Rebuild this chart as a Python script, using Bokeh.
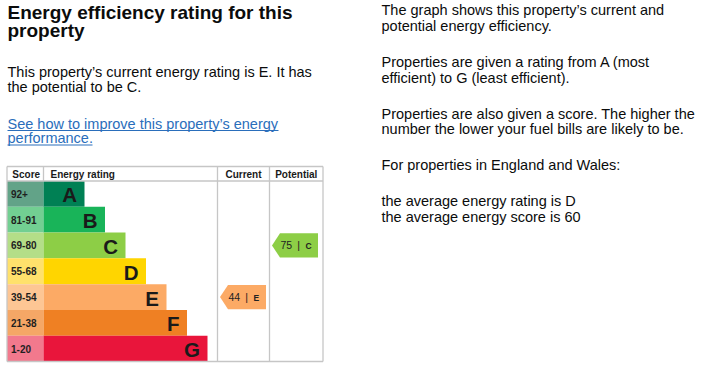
from bokeh.plotting import figure
from bokeh.models import Range1d, ColumnDataSource
from bokeh.core.properties import value
from bokeh.embed import file_html
from bokeh.resources import INLINE

# ---------------- data ----------------
bands = ["A", "B", "C", "D", "E", "F", "G"]
score_ranges = ["92+", "81-91", "69-80", "55-68", "39-54", "21-38", "1-20"]
current_score = 44
current_band = "E"
potential_score = 75
potential_band = "C"
headers = ["Score", "Energy rating", "Current", "Potential"]

title_lines = ["Energy efficiency rating for this", "property"]
summary_lines = ["This property\u2019s current energy rating is E. It has",
                 "the potential to be C."]
link_lines = ["See how to improve this property\u2019s energy", "performance."]
info_paras = [
    ["The graph shows this property\u2019s current and", "potential energy efficiency."],
    ["Properties are given a rating from A (most", "efficient) to G (least efficient)."],
    ["Properties are also given a score. The higher the",
     "number the lower your fuel bills are likely to be."],
    ["For properties in England and Wales:"],
    ["the average energy rating is D", "the average energy score is 60"],
]

# ---------------- styles ----------------
band_colors = ["#008054", "#19b459", "#8dce46", "#ffd500", "#fcaa65", "#ef8023", "#e9153b"]
score_colors = ["#62a388", "#72cf92", "#b4de88", "#ffe16c", "#fdc694", "#f5a766", "#f2798d"]
FONT = "Liberation Sans"
TXT = "#0b0c0c"
LINK = "#2a6ebb"
GRID = "#c6c6c6"
MID = 0.35  # baseline -> middle offset, in em

# layout (page pixel coordinates)
T_LEFT, T_RIGHT = 6.5, 322.5
T_TOP, H_BOTTOM, T_BOTTOM = 166.0, 180.5, 361.0
SCORE_R, RATING_R, CURRENT_R = 43.0, 217.0, 269.0
ROW_H = (T_BOTTOM - H_BOTTOM) / len(bands)
BAR_MIN, BAR_STEP = 41.0, 20.5

p = figure(width=700, height=380, output_backend="svg", toolbar_location=None,
           x_range=Range1d(0, 700), y_range=Range1d(380, 0),
           x_axis_location=None, y_axis_location=None,
           min_border=0, min_border_left=0, min_border_right=0,
           min_border_top=0, min_border_bottom=0)
p.grid.visible = False
p.outline_line_color = None
p.background_fill_color = "white"
p.border_fill_color = "white"


def label(x, y, text, size, bold=False, color=TXT, align="left", middle=False):
    """y is the text baseline unless middle=True"""
    yy = y if middle else y - MID * size
    p.text(x=[x], y=[yy], text=[text], text_font=value(FONT),
           text_font_size=f"{size}px",
           text_font_style="bold" if bold else "normal",
           text_color=color, text_align=align, text_baseline="middle")


# ---------------- left text ----------------
BODY = 14.5
label(7, 18.3, title_lines[0], 19, bold=True)
label(7, 36.3, title_lines[1], 19, bold=True)
label(7, 76.7, summary_lines[0], BODY)
label(7, 92.0, summary_lines[1], BODY)
label(7, 128.3, link_lines[0], BODY, color=LINK)
label(7, 142.8, link_lines[1], BODY, color=LINK)
p.segment(x0=[7, 7], y0=[130.0, 144.5], x1=[278, 92], y1=[130.0, 144.5],
          line_color=LINK, line_width=1)

# ---------------- right text ----------------
y = 15.0
for para in info_paras:
    for line in para:
        label(381, y, line, BODY)
        y += 15.5
    y += 20.6

# ---------------- EPC table ----------------
rows = list(range(len(bands)))
tops = [H_BOTTOM + i * ROW_H for i in rows]
bottoms = [t + ROW_H for t in tops]
centers = [t + ROW_H / 2 for t in tops]
bar_ends = [SCORE_R + BAR_MIN + BAR_STEP * i for i in rows]

src = ColumnDataSource(dict(band=bands, rng=score_ranges, top=tops, bottom=bottoms,
                            center=centers, end=bar_ends, bc=band_colors, sc=score_colors,
                            lx=[e - 7.5 for e in bar_ends], sx=[10.5] * len(bands)))
p.quad(left=T_LEFT, right=SCORE_R, top="top", bottom="bottom", fill_color="sc",
       line_color=None, source=src)
p.quad(left=SCORE_R, right="end", top="top", bottom="bottom", fill_color="bc",
       line_color=None, source=src)

p.text(x="sx", y="center", text="rng", source=src, text_font=value(FONT),
       text_font_size="10px", text_font_style="bold", text_color="#1f1f1f",
       text_baseline="middle", text_align="left")
p.text(x="lx", y="center", text="band", source=src, text_font=value(FONT),
       text_font_size="20.5px", text_font_style="bold", text_color="#1a1a1a",
       text_baseline="middle", text_align="right", y_offset=1)

# grid lines
gx0 = [T_LEFT, T_LEFT, T_LEFT, T_LEFT, T_RIGHT, SCORE_R, RATING_R, CURRENT_R]
gx1 = [T_RIGHT, T_RIGHT, T_RIGHT, T_LEFT, T_RIGHT, SCORE_R, RATING_R, CURRENT_R]
gy0 = [T_TOP, H_BOTTOM, T_BOTTOM, T_TOP, T_TOP, T_TOP, T_TOP, T_TOP]
gy1 = [T_TOP, H_BOTTOM, T_BOTTOM, T_BOTTOM, T_BOTTOM, H_BOTTOM, T_BOTTOM, T_BOTTOM]
p.segment(x0=gx0, y0=gy0, x1=gx1, y1=gy1, line_color=GRID, line_width=1.3)

# headers
hb = 177.6
label((T_LEFT + SCORE_R) / 2 + 1, hb, headers[0], 10, bold=True, align="center", color="#1a1a1a")
label(50, hb, headers[1], 10, bold=True, color="#1a1a1a")
label((RATING_R + CURRENT_R) / 2, hb, headers[2], 10, bold=True, align="center", color="#1a1a1a")
label((CURRENT_R + T_RIGHT) / 2, hb, headers[3], 10, bold=True, align="center", color="#1a1a1a")


# arrows
def arrow(col_left, band, score):
    i = bands.index(band)
    t, b, c = tops[i] + 0.8, bottoms[i] - 0.8, centers[i]
    tip = col_left + 2.5
    right = col_left + 48.5
    p.patch(x=[tip, tip + 8, right, right, tip + 8], y=[c, t, t, b, b],
            fill_color=band_colors[i], line_color=None)
    label(tip + 8.5, c, str(score), 10.5, color="#222222", middle=True)
    label(tip + 25.2, c, "|", 10.5, color="#222222", middle=True)
    label(tip + 33.5, c + 0.5, band, 8.5, bold=True, color="#222222", middle=True)


arrow(RATING_R, current_band, current_score)
arrow(CURRENT_R, potential_band, potential_score)

open("out.html", "w").write(file_html(p, INLINE))
